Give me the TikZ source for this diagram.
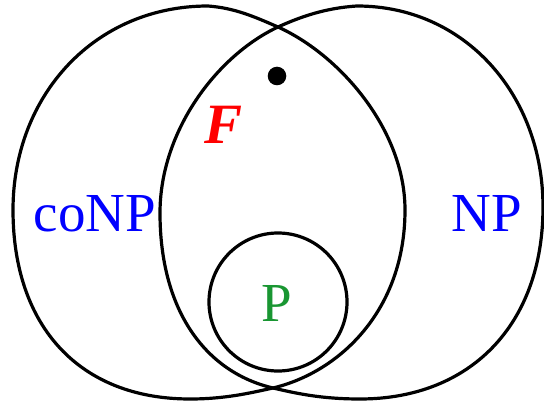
\documentclass[tikz,border=0pt]{standalone}
\usepackage{fontspec}
\setmainfont{Liberation Serif}
\definecolor{pgreen}{RGB}{25,150,50}
\begin{document}
\begin{tikzpicture}[x=1pt,y=-1pt,
  region/.style={draw=black, line width=3.2pt, line join=round},
  lab/.style={inner sep=0pt, anchor=base, font=\fontsize{55}{55}\selectfont}]
\useasboundingbox (0,0) rectangle (544,401);
% named points
\coordinate (xt) at (278,27);
\coordinate (xb) at (273,388);
% coNP region
\draw[region] (208,6) .. controls (95,6) and (13,95) .. (13,210)
  .. controls (13,327) and (80,399) .. (190,399)
  .. controls (225,399) and (250,393) .. (xb)
  .. controls (340,372) and (405,310) .. (405,210)
  .. controls (405,130) and (340,55) .. (xt)
  .. controls (255,17) and (235,8) .. (208,6) -- cycle;
% NP region
\draw[region] (357,6) .. controls (465,6) and (543,95) .. (543,207)
  .. controls (543,325) and (470,399) .. (360,399)
  .. controls (320,399) and (295,393) .. (xb)
  .. controls (205,372) and (160,310) .. (160,213)
  .. controls (160,130) and (218,55) .. (xt)
  .. controls (300,17) and (325,8) .. (357,6) -- cycle;
% P
\node[draw, circle, line width=3.2pt, minimum size=138pt, inner sep=0pt] (pc) at (278,302) {};
\node[circle, fill=black, minimum size=18.6pt, inner sep=0pt] (dot) at (277,76) {};
\node[lab, text=blue] (conp) at (95,232) {coNP};
\node[lab, text=blue] (np) at (487,232) {NP};
\node[lab, text=pgreen] (p) at (277,321) {P};
\node[lab, text=red, font=\fontsize{57}{57}\selectfont\bfseries\itshape] (f) at (224,144) {F};
\end{tikzpicture}
\end{document}
